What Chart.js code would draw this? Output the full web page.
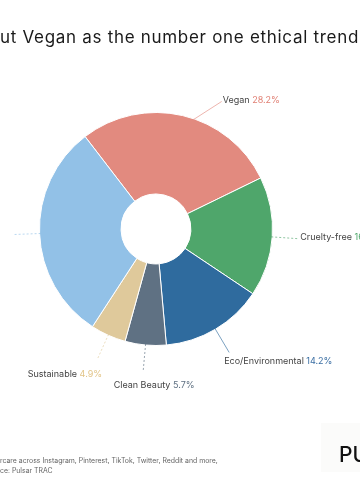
<!DOCTYPE html>
<html>
<head>
<meta charset="utf-8">
<script src="https://cdn.jsdelivr.net/npm/chart.js@4.4.0/dist/chart.umd.min.js"></script>
<style>
  html, body { margin: 0; padding: 0; background: #fff; }
  canvas { display: block; }
</style>
</head>
<body>
<canvas id="myChart" width="360" height="500"></canvas>
<script>
const gLabels = ['Vegan', 'Cruelty-free', 'Eco/Environmental', 'Clean Beauty', 'Sustainable', 'Natural']
const gValues = [28.2, 16.6, 14.2, 5.7, 4.9, 30.4]
const gColors = ['#e28a7f', '#4fa66b', '#2f6b9e', '#5f7183', '#dfc99b', '#92c1e7']
const gPctColors = ['#e07f73', '#4fa66b', '#3a6ea3', '#5f7183', '#e2c487', '#6fa6d6']
const gTitle = 'ut Vegan as the number one ethical trend'
const gFooter = [
  'rcare across Instagram, Pinterest, TikTok, Twitter, Reddit and more,',
  'ce: Pulsar TRAC'
]
const gLogo = 'PU'

// bend for the vegan leader line (degrees)
const gLabelShift = [14, 0, 0, 0, 0, 0]
const FONT = 'Inter, "DejaVu Sans", sans-serif'

const labelPlugin = {
  id: 'sliceLabels',
  afterDatasetsDraw(chart) {
    const ctx = chart.ctx
    const meta = chart.getDatasetMeta(0)
    ctx.save()
    meta.data.forEach((arc, i) => {
      const { x, y, startAngle, endAngle, outerRadius } = arc.getProps(['x', 'y', 'startAngle', 'endAngle', 'outerRadius'], true)
      const mid = (startAngle + endAngle) / 2
      const shift = gLabelShift[i] * Math.PI / 180
      const a0 = mid + shift * 0.4
      const a1 = mid + shift
      const p0 = { x: x + (outerRadius - 1) * Math.cos(a0), y: y + (outerRadius - 1) * Math.sin(a0) }
      const p1 = { x: x + (outerRadius + 27) * Math.cos(a1), y: y + (outerRadius + 27) * Math.sin(a1) }

      ctx.strokeStyle = gColors[i]
      ctx.globalAlpha = 0.8
      ctx.lineWidth = 0.8
      ctx.setLineDash(i === 0 || i === 2 ? [] : [2, 2])
      ctx.beginPath()
      ctx.moveTo(p0.x, p0.y)
      ctx.lineTo(p1.x, p1.y)
      ctx.stroke()
      ctx.globalAlpha = 1

      // angle from top, clockwise, degrees
      let deg = (a1 * 180 / Math.PI + 90) % 360
      if (deg < 0) deg += 360
      const name = gLabels[i] + ' '
      const pct = gValues[i].toFixed(1) + '%'
      ctx.font = '9px ' + FONT
      const wName = ctx.measureText(name).width
      const wPct = ctx.measureText(pct).width
      const total = wName + wPct
      let tx, ty
      if (deg < 120) {
        tx = p1.x + 1
        ty = p1.y - 1
      } else if (deg <= 240) {
        const s = Math.sin(deg * Math.PI / 180)
        if (s > 0.3) { tx = p1.x - 5; ty = p1.y + 9 }
        else if (s > -0.3) { tx = p1.x + 11 - total / 2; ty = p1.y + 13 }
        else { tx = p1.x + 5 - total; ty = p1.y + 14 }
      } else {
        tx = p1.x - 3 - total
        ty = p1.y
      }
      if (tx < 0) return
      ctx.textBaseline = 'middle'
      ctx.textAlign = 'left'
      ctx.fillStyle = '#444'
      ctx.fillText(name, tx, ty)
      ctx.fillStyle = gPctColors[i]
      ctx.fillText(pct, tx + wName, ty)
    })
    ctx.restore()
  },
  afterDraw(chart) {
    const ctx = chart.ctx
    ctx.save()
    ctx.textAlign = 'left'
    ctx.textBaseline = 'alphabetic'
    ctx.fillStyle = '#1a1a1a'
    ctx.font = '17px ' + FONT
    ctx.letterSpacing = '0.7px'
    ctx.fillText(gTitle, 0, 43)
    ctx.letterSpacing = '0px'

    ctx.fillStyle = '#666'
    ctx.font = '6.9px ' + FONT
    ctx.textBaseline = 'middle'
    ctx.fillText(gFooter[0], 0, 461)
    ctx.fillText(gFooter[1], 0, 471)

    ctx.fillStyle = '#fbfbfa'
    ctx.fillRect(321, 423, 39, 49)
    ctx.fillStyle = '#111'
    ctx.font = '500 21px ' + FONT
    ctx.textBaseline = 'alphabetic'
    ctx.fillText(gLogo, 339, 462)
    ctx.restore()
  }
}

function displayChart() {
  const ctx = document.getElementById('myChart').getContext('2d')
  new Chart(ctx, {
    type: 'doughnut',
    data: {
      labels: gLabels,
      datasets: [{
        data: gValues,
        backgroundColor: gColors,
        borderColor: '#fff',
        borderWidth: 1
      }]
    },
    options: {
      responsive: false,
      animation: false,
      cutout: '30%',
      rotation: -37.5,
      layout: { padding: { left: 39, right: 87, top: 112, bottom: 154 } },
      plugins: {
        legend: { display: false },
        tooltip: { enabled: false },
        title: { display: false }
      }
    },
    plugins: [labelPlugin]
  })
}

displayChart()
</script>
</body>
</html>
